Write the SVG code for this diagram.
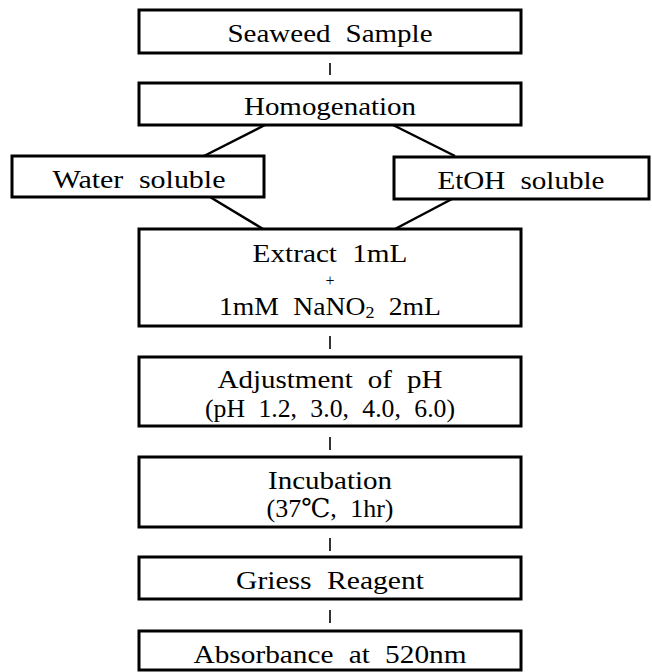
<svg xmlns="http://www.w3.org/2000/svg" width="652" height="672" viewBox="0 0 652 672">
  <style>
    .box { fill: #ffffff; stroke: #000000; stroke-width: 3; }
    .lbl { font-family: "Liberation Serif", "DejaVu Serif", "Noto Sans CJK KR", serif; font-size: 26px; fill: #000000; text-anchor: middle; word-spacing: 7px; }
    .plus { font-family: "Liberation Serif", "DejaVu Serif", serif; font-size: 16px; fill: #000000; text-anchor: middle; }
    .link { stroke: #000000; stroke-width: 2.5; fill: none; }
    .tick { stroke: #000000; stroke-width: 1.6; fill: none; }
  </style>
  <rect width="652" height="672" fill="#ffffff"/>

  <g id="connectors">
    <line class="tick" x1="330" y1="63" x2="330" y2="75"/>
    <line class="link" x1="265" y1="125" x2="204" y2="156"/>
    <line class="link" x1="393" y1="125" x2="455" y2="156"/>
    <line class="link" x1="210" y1="197" x2="263" y2="229"/>
    <line class="link" x1="452" y1="199" x2="395" y2="229"/>
    <line class="tick" x1="330" y1="336" x2="330" y2="349"/>
    <line class="tick" x1="330" y1="437" x2="330" y2="450"/>
    <line class="tick" x1="330" y1="538" x2="330" y2="551"/>
    <line class="tick" x1="330" y1="610" x2="330" y2="623"/>
  </g>

  <g id="seaweed-sample">
    <rect class="box" x="139" y="10" width="382" height="43"/>
    <text class="lbl" x="330" y="42" textLength="205" lengthAdjust="spacingAndGlyphs">Seaweed Sample</text>
  </g>

  <g id="homogenation">
    <rect class="box" x="139" y="83" width="382" height="42"/>
    <text class="lbl" x="330" y="115" textLength="172" lengthAdjust="spacingAndGlyphs">Homogenation</text>
  </g>

  <g id="water-soluble">
    <rect class="box" x="12" y="156" width="252" height="41"/>
    <text class="lbl" x="139" y="188" textLength="173" lengthAdjust="spacingAndGlyphs">Water soluble</text>
  </g>

  <g id="etoh-soluble">
    <rect class="box" x="394" y="157" width="255" height="42"/>
    <text class="lbl" x="521" y="189" textLength="167" lengthAdjust="spacingAndGlyphs">EtOH soluble</text>
  </g>

  <g id="extract-mix">
    <rect class="box" x="139" y="229" width="382" height="97"/>
    <text class="lbl" x="330" y="262" textLength="155" lengthAdjust="spacingAndGlyphs">Extract 1mL</text>
    <text class="plus" x="330" y="286">+</text>
    <text class="lbl" x="330" y="315" textLength="222" lengthAdjust="spacingAndGlyphs">1mM NaNO<tspan font-size="17" dy="3">2</tspan><tspan dy="-3"> 2mL</tspan></text>
  </g>

  <g id="ph-adjustment">
    <rect class="box" x="139" y="357" width="382" height="69"/>
    <text class="lbl" x="330" y="388" textLength="225" lengthAdjust="spacingAndGlyphs">Adjustment of pH</text>
    <text class="lbl" x="330" y="417" textLength="250" lengthAdjust="spacingAndGlyphs">(pH 1.2, 3.0, 4.0, 6.0)</text>
  </g>

  <g id="incubation">
    <rect class="box" x="139" y="457" width="382" height="70"/>
    <text class="lbl" x="330" y="489" textLength="124" lengthAdjust="spacingAndGlyphs">Incubation</text>
    <text class="lbl" x="330" y="517" textLength="127" lengthAdjust="spacingAndGlyphs">(37℃, 1hr)</text>
  </g>

  <g id="griess-reagent">
    <rect class="box" x="139" y="557" width="382" height="42"/>
    <text class="lbl" x="330" y="589" textLength="188" lengthAdjust="spacingAndGlyphs">Griess Reagent</text>
  </g>

  <g id="absorbance">
    <rect class="box" x="139" y="631" width="382" height="39"/>
    <text class="lbl" x="330" y="663" textLength="273" lengthAdjust="spacingAndGlyphs">Absorbance at 520nm</text>
  </g>
</svg>
